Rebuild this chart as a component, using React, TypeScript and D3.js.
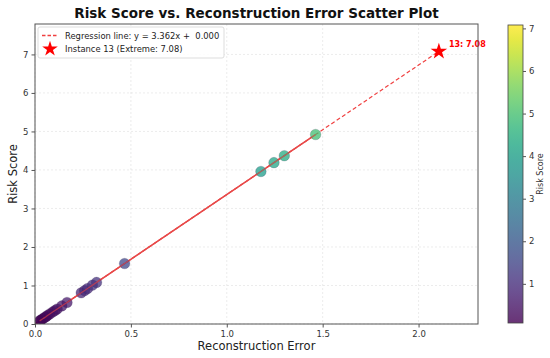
import React, { useRef, useEffect } from 'react'
import * as d3 from 'd3'

// values
const riskScore = [0.08, 0.1, 0.13, 0.16, 0.19, 0.22, 0.26, 0.31, 0.35, 0.39, 0.47, 0.56, 0.81, 0.87, 0.92, 1.01, 1.08, 1.57, 3.96, 4.19, 4.37, 4.92, 7.08]
const reconError = [0.024, 0.03, 0.039, 0.048, 0.057, 0.065, 0.077, 0.092, 0.104, 0.116, 0.14, 0.167, 0.241, 0.259, 0.274, 0.3, 0.321, 0.467, 1.178, 1.246, 1.3, 1.463, 2.106]
const extremeIndex = 22
const extremeLabel = 13
const xTicks = [0, 0.5, 1.0, 1.5, 2.0]
const yTicks = [0, 1, 2, 3, 4, 5, 6, 7]
const cbTicks = [1, 2, 3, 4, 5, 6, 7]
const slope = 3.362
const intercept = 0.0

const W = 550
const H = 358
const font = 'DejaVu Sans, sans-serif'

const App = () => {
  const ref = useRef<SVGSVGElement>(null)

  useEffect(() => {
    const svg = d3.select(ref.current)
    svg.selectAll('*').remove()

    const m = { left: 35, right: 478, top: 24, bottom: 324 }
    const x = d3.scaleLinear([0, 2.31], [m.left, m.right])
    const y = d3.scaleLinear([0, 7.79], [m.bottom, m.top])
    const cmin = 0.08, cmax = 7.08
    const color = (v: number) => d3.interpolateViridis((v - cmin) / (cmax - cmin))

    const defs = svg.append('defs')
    defs.append('clipPath').attr('id', 'clip')
      .append('rect').attr('x', m.left).attr('y', m.top)
      .attr('width', m.right - m.left).attr('height', m.bottom - m.top)

    // grid
    const grid = svg.append('g').attr('stroke', '#b0b0b0').attr('stroke-opacity', 0.3)
      .attr('stroke-dasharray', '2,2').attr('stroke-width', 0.8)
    grid.selectAll('.gx').data(xTicks).join('line')
      .attr('x1', d => x(d)).attr('x2', d => x(d)).attr('y1', m.top).attr('y2', m.bottom)
    grid.selectAll('.gy').data(yTicks).join('line')
      .attr('y1', d => y(d)).attr('y2', d => y(d)).attr('x1', m.left).attr('x2', m.right)

    const plot = svg.append('g').attr('clip-path', 'url(#clip)')

    // regression line (dashed)
    const xr = [0, d3.max(reconError)!]
    plot.append('path')
      .attr('d', d3.line<number>().x(d => x(d)).y(d => y(slope * d + intercept))(xr))
      .attr('stroke', '#f04040').attr('stroke-width', 1.2).attr('stroke-dasharray', '4,2.5')
      .attr('fill', 'none')

    // solid line through the points
    const pts = d3.range(riskScore.length).filter(i => i !== extremeIndex)
    const lineXs = [0, ...pts.map(i => reconError[i])]
    const lineYs = [0, ...pts.map(i => riskScore[i])]
    plot.append('path')
      .attr('d', d3.line<number>().x(k => x(lineXs[k])).y(k => y(lineYs[k]))(d3.range(lineXs.length)))
      .attr('stroke', '#e84a4a').attr('stroke-width', 1.5).attr('fill', 'none')

    // points
    plot.selectAll('circle').data(pts).join('circle')
      .attr('cx', i => x(reconError[i])).attr('cy', i => y(riskScore[i])).attr('r', 5.3)
      .attr('fill', i => color(riskScore[i])).attr('fill-opacity', 0.75)
      .attr('stroke', '#2a1a4a').attr('stroke-opacity', 0.3).attr('stroke-width', 0.6)

    // solid line on top, faint
    plot.append('path')
      .attr('d', d3.line<number>().x(i => x(reconError[i])).y(i => y(riskScore[i]))(pts))
      .attr('stroke', '#e84a4a').attr('stroke-opacity', 0.6).attr('stroke-width', 1.3).attr('fill', 'none')

    // star for extreme instance
    const star = d3.symbol(d3.symbolStar, 85)
    svg.append('path').attr('d', star()!)
      .attr('transform', `translate(${x(reconError[extremeIndex])},${y(riskScore[extremeIndex])})`)
      .attr('fill', '#ff0000')
    svg.append('text')
      .attr('x', x(reconError[extremeIndex]) + 10).attr('y', y(riskScore[extremeIndex]) - 4)
      .attr('fill', '#ff0000').attr('font-weight', 'bold').attr('font-size', 8).attr('font-family', font)
      .text(`${extremeLabel}: ${riskScore[extremeIndex].toFixed(2)}`)

    // frame
    svg.append('rect').attr('x', m.left).attr('y', m.top)
      .attr('width', m.right - m.left).attr('height', m.bottom - m.top)
      .attr('fill', 'none').attr('stroke', '#555').attr('stroke-width', 1)

    // axes
    const xa = svg.append('g').attr('transform', `translate(0,${m.bottom})`)
      .call(d3.axisBottom(x).tickValues(xTicks).tickFormat(d3.format('.1f')).tickSize(3.5))
    const ya = svg.append('g').attr('transform', `translate(${m.left},0)`)
      .call(d3.axisLeft(y).tickValues(yTicks).tickFormat(d3.format('d')).tickSize(3.5))
    for (const a of [xa, ya]) {
      a.select('.domain').remove()
      a.selectAll('text').attr('font-size', 8.5).attr('font-family', font).attr('fill', '#333')
      a.selectAll('line').attr('stroke', '#555')
    }

    // title & labels
    svg.append('text').attr('x', (m.left + m.right) / 2).attr('y', 18).attr('text-anchor', 'middle')
      .attr('font-family', font).attr('font-weight', 'bold').attr('font-size', 13.5).attr('fill', '#111')
      .text('Risk Score vs. Reconstruction Error Scatter Plot')
    svg.append('text').attr('x', (m.left + m.right) / 2).attr('y', 350).attr('text-anchor', 'middle')
      .attr('font-family', font).attr('font-size', 11.5).attr('fill', '#222')
      .text('Reconstruction Error')
    svg.append('text').attr('transform', `translate(17,${(m.top + m.bottom) / 2}) rotate(-90)`)
      .attr('text-anchor', 'middle').attr('font-family', font).attr('font-size', 11.5).attr('fill', '#222')
      .text('Risk Score')

    // legend
    const lg = svg.append('g')
    lg.append('rect').attr('x', 38).attr('y', 27).attr('width', 186).attr('height', 31).attr('rx', 2)
      .attr('fill', 'white').attr('fill-opacity', 0.85).attr('stroke', '#ddd')
    lg.append('line').attr('x1', 42).attr('x2', 58).attr('y1', 35.5).attr('y2', 35.5)
      .attr('stroke', '#f04040').attr('stroke-width', 1.3).attr('stroke-dasharray', '3.5,2')
    lg.append('text').attr('x', 65).attr('y', 38.5).attr('font-family', font).attr('font-size', 8.4).attr('fill', '#222')
      .style('white-space', 'pre')
      .text(`Regression line: y = ${slope.toFixed(3)}x +  ${intercept.toFixed(3)}`)
    lg.append('path').attr('d', d3.symbol(d3.symbolStar, 75)()!).attr('transform', 'translate(50,49)').attr('fill', '#ff0000')
    lg.append('text').attr('x', 65).attr('y', 52).attr('font-family', font).attr('font-size', 8.4).attr('fill', '#222')
      .text(`Instance ${extremeLabel} (Extreme: ${riskScore[extremeIndex].toFixed(2)})`)

    // colorbar
    const cb = { x: 508, w: 15, top: 25, bottom: 323 }
    const cy = d3.scaleLinear([cmin, cmax], [cb.bottom, cb.top])
    const grad = defs.append('linearGradient').attr('id', 'vir')
      .attr('x1', 0).attr('x2', 0).attr('y1', 1).attr('y2', 0)
    d3.range(0, 1.0001, 0.05).forEach(t => {
      grad.append('stop').attr('offset', t).attr('stop-color', d3.interpolateViridis(t))
    })
    svg.append('rect').attr('x', cb.x).attr('y', cb.top).attr('width', cb.w).attr('height', cb.bottom - cb.top)
      .attr('fill', 'url(#vir)').attr('fill-opacity', 0.8).attr('stroke', '#444').attr('stroke-width', 0.8)
    const ca = svg.append('g').attr('transform', `translate(${cb.x + cb.w},0)`)
      .call(d3.axisRight(cy).tickValues(cbTicks).tickFormat(d3.format('d')).tickSize(3))
    ca.select('.domain').remove()
    ca.selectAll('text').attr('font-size', 8.5).attr('font-family', font).attr('fill', '#333')
    ca.selectAll('line').attr('stroke', '#555')
    svg.append('text').attr('transform', `translate(543,${(cb.top + cb.bottom) / 2}) rotate(-90)`)
      .attr('text-anchor', 'middle').attr('font-family', font).attr('font-size', 8).attr('fill', '#333')
      .text('Risk Score')
  }, [])

  return (
    <div style={{ position: 'absolute', left: 0, top: 0 }}>
      <svg ref={ref} width={W} height={H} style={{ display: 'block', background: 'white' }} />
    </div>
  )
}

export default App
